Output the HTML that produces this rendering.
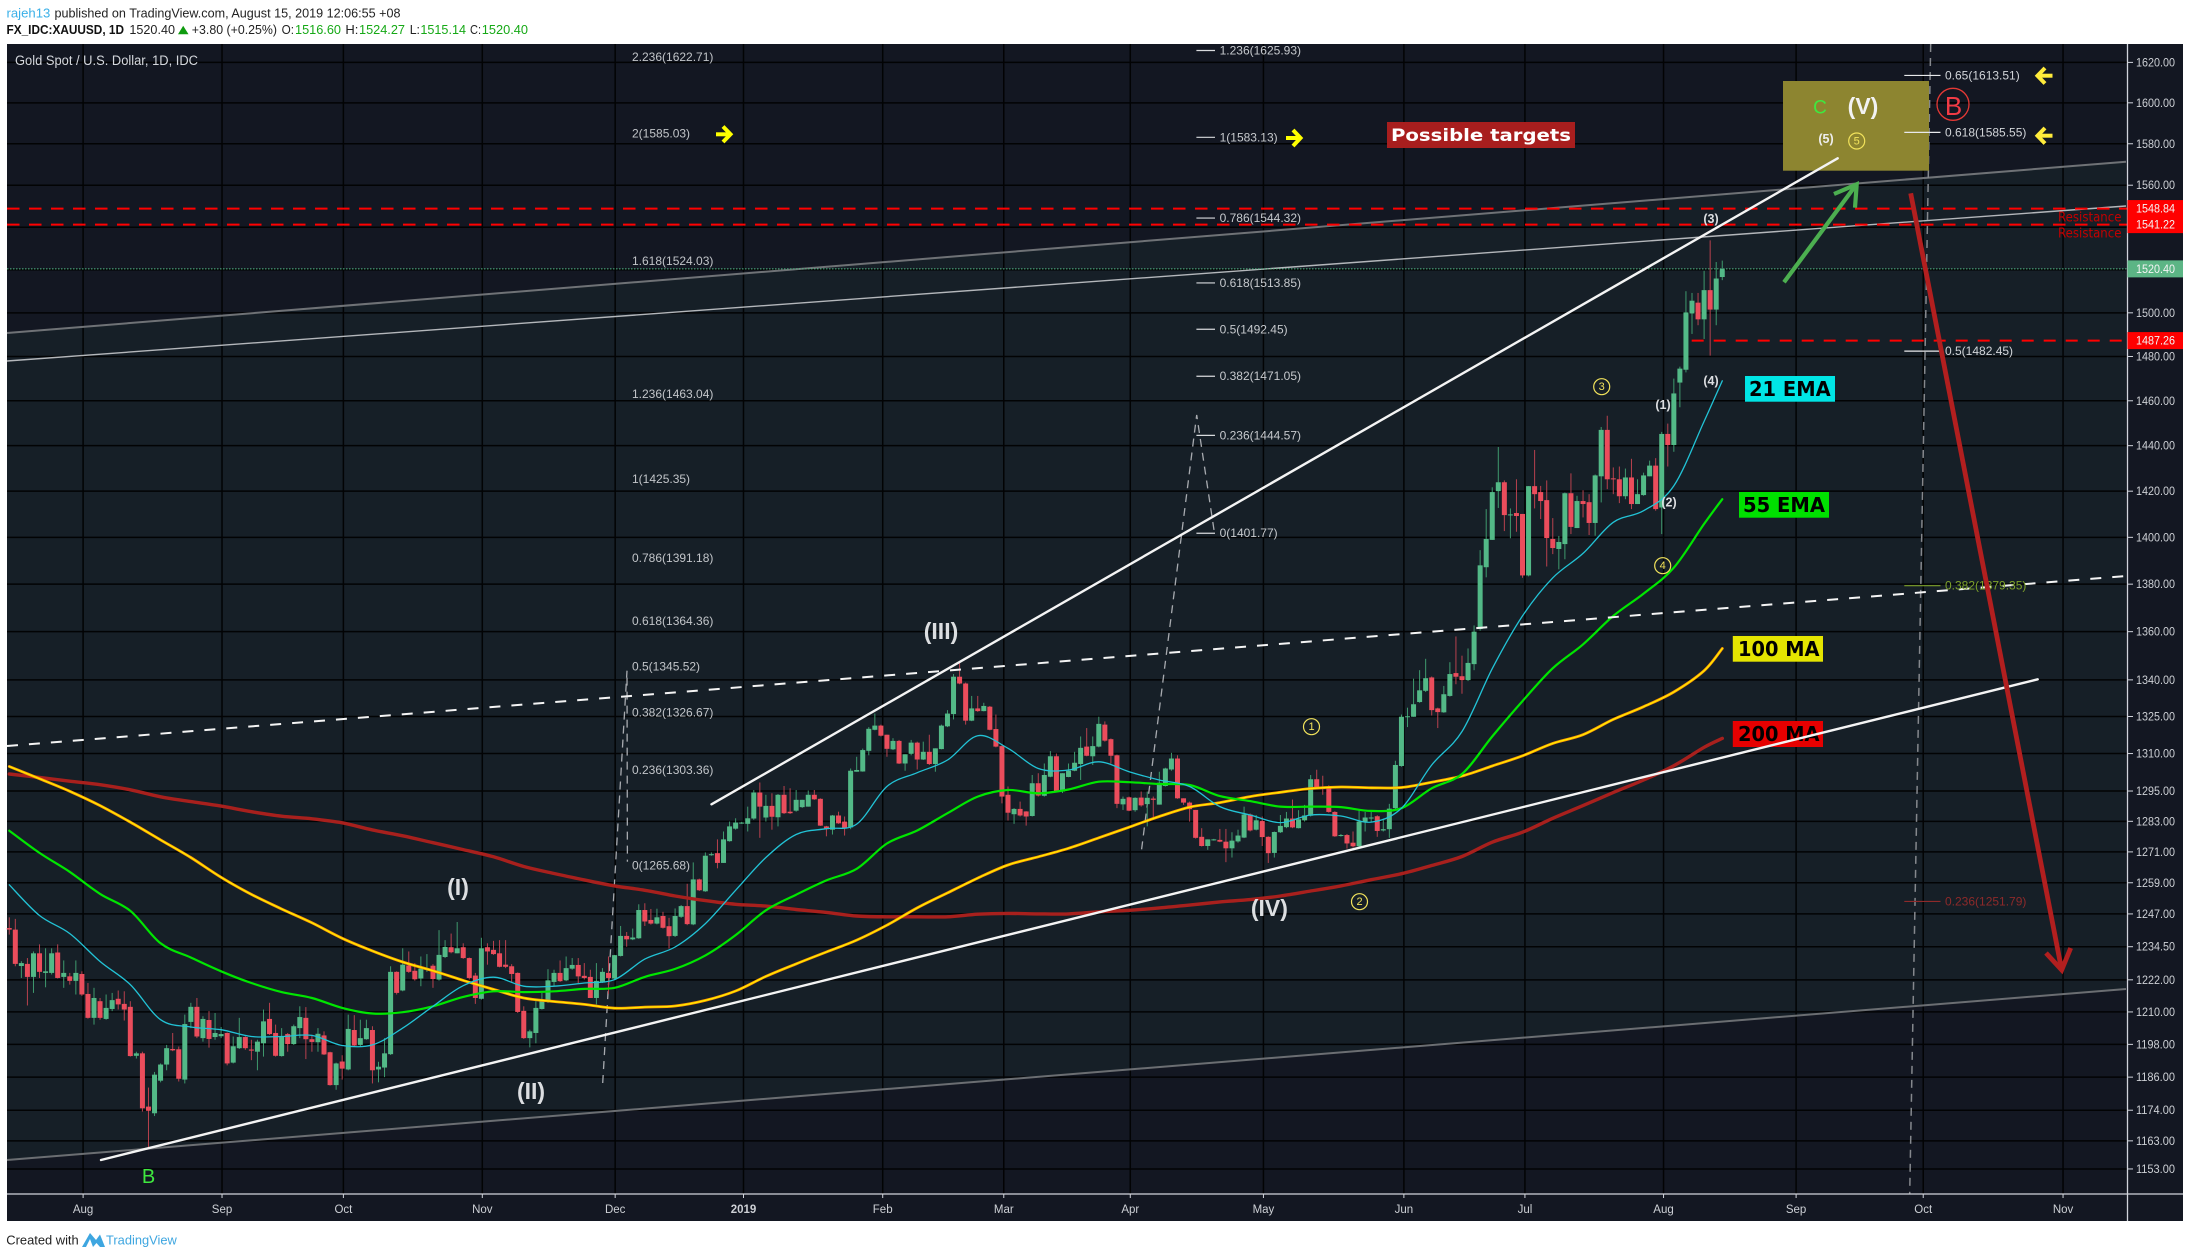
<!DOCTYPE html>
<html lang="en">
<head>
<meta charset="utf-8">
<title>Gold Spot / U.S. Dollar, 1D, IDC</title>
<style>
html,body{margin:0;padding:0;background:#fff;width:2190px;height:1258px;overflow:hidden}
svg{display:block;font-family:"Liberation Sans",sans-serif}
.dj{font-family:"DejaVu Sans","Liberation Sans",sans-serif;font-weight:bold}
.wave{font-family:"Liberation Sans",sans-serif;font-weight:bold;fill:#dcdee1;text-anchor:middle;dominant-baseline:central}
.num{font-size:11px;fill:#f2e35c;text-anchor:middle;dominant-baseline:central}
.ring{fill:none;stroke:#f2e35c;stroke-width:1.2}
</style>
</head>
<body>
<svg id="chart" width="2190" height="1258" viewBox="0 0 2190 1258" xmlns="http://www.w3.org/2000/svg">
  <g font-size="13">
    <text x="6.5" y="17.5" fill="#3ab0e8" textLength="43.8" lengthAdjust="spacingAndGlyphs">rajeh13</text>
    <text x="54.5" y="17.5" fill="#222" textLength="346" lengthAdjust="spacingAndGlyphs">published on TradingView.com, August 15, 2019 12:06:55 +08</text>
    <text x="6.5" y="34" fill="#111" font-weight="bold" textLength="117.5" lengthAdjust="spacingAndGlyphs">FX_IDC:XAUUSD, 1D</text>
    <text x="129.4" y="34" fill="#222" textLength="45.6" lengthAdjust="spacingAndGlyphs">1520.40</text>
    <polygon points="183.2,25.7 178,34.2 188.5,34.2" fill="#0f9b0f"/>
    <text x="191.8" y="34" fill="#222" textLength="85.2" lengthAdjust="spacingAndGlyphs">+3.80 (+0.25%)</text>
    <text x="281.6" y="34" fill="#222" textLength="12.4" lengthAdjust="spacingAndGlyphs">O:</text>
    <text x="295" y="34" fill="#16a916" textLength="46" lengthAdjust="spacingAndGlyphs">1516.60</text>
    <text x="345.4" y="34" fill="#222" textLength="13" lengthAdjust="spacingAndGlyphs">H:</text>
    <text x="359" y="34" fill="#16a916" textLength="46" lengthAdjust="spacingAndGlyphs">1524.27</text>
    <text x="409.7" y="34" fill="#222" textLength="10.3" lengthAdjust="spacingAndGlyphs">L:</text>
    <text x="420.4" y="34" fill="#16a916" textLength="45.6" lengthAdjust="spacingAndGlyphs">1515.14</text>
    <text x="470" y="34" fill="#222" textLength="11" lengthAdjust="spacingAndGlyphs">C:</text>
    <text x="481.8" y="34" fill="#16a916" textLength="46.2" lengthAdjust="spacingAndGlyphs">1520.40</text>
  </g>
  <rect x="7" y="44" width="2176" height="1177" fill="#131722"/>
  <polygon points="7,333 2126,161.7 2126,989 7,1160" fill="#161f27"/>
  <g id="grid"></g>
  <g fill="none">
    <line x1="7" y1="333" x2="2126" y2="161.7" stroke="#6f7276" stroke-width="2"/>
    <line x1="7" y1="361" x2="2126" y2="206" stroke="#b4b7bb" stroke-width="1.4"/>
    <line x1="7" y1="1160" x2="2126" y2="989" stroke="#6b6e72" stroke-width="2"/>
  </g>
  <g id="levels"></g>
  <g fill="none" stroke="#a8abb0" stroke-width="1.3" stroke-dasharray="8 6">
    <polyline points="602.7,1083 627,670.7 627.4,861.7"/>
    <polyline points="1141.6,849.3 1196.7,415 1214,530"/>
  </g>
  <line x1="1930.7" y1="44" x2="1909.7" y2="1194" stroke="#85888d" stroke-width="1.5" stroke-dasharray="8 6"/>
  <rect x="1783" y="81" width="146" height="89.7" fill="#8d8530"/>
  <g id="candles"></g>
  <g id="averages"></g>
  <g>
    <rect x="1745" y="376" width="90" height="25.7" fill="#00e5e5"/>
    <text class="dj" x="1749" y="396" font-size="20" fill="#000" textLength="81.7" lengthAdjust="spacingAndGlyphs">21 EMA</text>
    <rect x="1739" y="492" width="90" height="25.7" fill="#00e000"/>
    <text class="dj" x="1743" y="512" font-size="20" fill="#000" textLength="82" lengthAdjust="spacingAndGlyphs">55 EMA</text>
    <rect x="1732.8" y="636" width="90.2" height="25.7" fill="#e5e500"/>
    <text class="dj" x="1738" y="656" font-size="20" fill="#000" textLength="81.5" lengthAdjust="spacingAndGlyphs">100 MA</text>
    <rect x="1732.8" y="721" width="90.2" height="26" fill="#e60000"/>
    <text class="dj" x="1738" y="741" font-size="20" fill="#000" textLength="81.5" lengthAdjust="spacingAndGlyphs">200 MA</text>
  </g>
  <g fill="none" stroke-linecap="round">
    <line x1="101" y1="1160" x2="2037.7" y2="679.3" stroke="#f4f4f4" stroke-width="2.4"/>
    <line x1="711.5" y1="804.3" x2="1837.7" y2="158.3" stroke="#f4f4f4" stroke-width="2.4"/>
    <line x1="7" y1="746" x2="2126" y2="576" stroke="#f4f4f4" stroke-width="2" stroke-dasharray="11 11" stroke-linecap="butt"/>
  </g>
  <g id="fibs" font-size="12"></g>
  <g fill="none" stroke-linecap="butt">
    <polyline points="716,134.3 730,134.3" stroke="#ffff00" stroke-width="4"/>
    <polyline points="723,126.5 730.5,134.3 723,142" stroke="#ffff00" stroke-width="4"/>
    <polyline points="1286,138 1300,138" stroke="#ffff00" stroke-width="4"/>
    <polyline points="1293,130 1300.5,138 1293,146" stroke="#ffff00" stroke-width="4"/>
    <polyline points="2052.5,75.7 2038,75.7" stroke="#ffeb3b" stroke-width="4"/>
    <polyline points="2045,68 2037.5,75.7 2045,83.5" stroke="#ffeb3b" stroke-width="4"/>
    <polyline points="2052.5,135.7 2038,135.7" stroke="#ffeb3b" stroke-width="4"/>
    <polyline points="2045,128 2037.5,135.7 2045,143.5" stroke="#ffeb3b" stroke-width="4"/>
    <line x1="1784" y1="282.3" x2="1856" y2="185" stroke="#4caf50" stroke-width="4.2"/>
    <polyline points="1834,194 1856.7,184.3 1855,207.7" stroke="#4caf50" stroke-width="4.2"/>
    <line x1="1910.7" y1="193.3" x2="2061.5" y2="969" stroke="#b21f1f" stroke-width="4.8"/>
    <polyline points="2046,953 2061.7,970 2070.7,948" stroke="#b21f1f" stroke-width="4.8"/>
  </g>
  <g>
    <text x="15" y="65" font-size="13.5" fill="#d5d8dd" textLength="183" lengthAdjust="spacingAndGlyphs">Gold Spot / U.S. Dollar, 1D, IDC</text>
    <rect x="1387" y="122" width="188" height="26" fill="#a81e1e"/>
    <text class="dj" x="1391" y="141" font-size="17" fill="#fff" textLength="180" lengthAdjust="spacingAndGlyphs">Possible targets</text>
    <text x="1820" y="108" font-size="19" fill="#3fe83f" text-anchor="middle" dominant-baseline="central">C</text>
    <text class="wave" x="1863" y="106" font-size="23" style="fill:#f2f2f2">(V)</text>
    <text class="wave" x="1826" y="139" font-size="12.5" style="fill:#eee">(5)</text>
    <circle class="ring" cx="1856.7" cy="141" r="8"/>
    <text class="num" x="1856.7" y="141.5">5</text>
    <circle cx="1953" cy="104.3" r="16" fill="none" stroke="#e53935" stroke-width="1.3"/>
    <text x="1953.5" y="106" font-size="26" fill="#f23b45" text-anchor="middle" dominant-baseline="central">B</text>
    <text class="wave" x="458" y="887" font-size="23">(I)</text>
    <text class="wave" x="531" y="1091" font-size="23">(II)</text>
    <text class="wave" x="941" y="631" font-size="23">(III)</text>
    <text class="wave" x="1269.4" y="908" font-size="23">(IV)</text>
    <text x="148.6" y="1177" font-size="20" fill="#3fe83f" text-anchor="middle" dominant-baseline="central">B</text>
    <circle class="ring" cx="1311.5" cy="726.7" r="8"/>
    <text class="num" x="1311.5" y="727.2">1</text>
    <circle class="ring" cx="1359.5" cy="901.7" r="8"/>
    <text class="num" x="1359.5" y="902.2">2</text>
    <circle class="ring" cx="1601.7" cy="386.7" r="8"/>
    <text class="num" x="1601.7" y="387.2">3</text>
    <circle class="ring" cx="1662.7" cy="565.7" r="8"/>
    <text class="num" x="1662.7" y="566.2">4</text>
    <text class="wave" x="1663" y="405" font-size="12.5">(1)</text>
    <text class="wave" x="1669" y="502.3" font-size="12.5">(2)</text>
    <text class="wave" x="1711" y="219" font-size="12.5">(3)</text>
    <text class="wave" x="1711" y="381" font-size="12.5">(4)</text>
    <text class="dj" style="font-weight:normal" x="2058" y="221.5" font-size="13" fill="#c40000" textLength="63.5" lengthAdjust="spacingAndGlyphs">Resistance</text>
    <text class="dj" style="font-weight:normal" x="2058" y="237.5" font-size="13" fill="#c40000" textLength="63.5" lengthAdjust="spacingAndGlyphs">Resistance</text>
  </g>
  <g id="axes"></g>
  <g>
    <text x="6.3" y="1244.5" font-size="13" fill="#222" textLength="72.4" lengthAdjust="spacingAndGlyphs">Created with</text>
    <path d="M82,1247 L90,1233 L96,1240 L100,1234.5 L105,1247 L100,1247 L96.5,1243 L93,1247 L90,1239 L86,1247 Z" fill="#3ea6e0"/>
    <text x="106" y="1244.5" font-size="13" fill="#3ea6e0" textLength="70.8" lengthAdjust="spacingAndGlyphs">TradingView</text>
  </g>
</svg>
<script>
/* ---------- chart data ---------- */
const opens = [
1241.6,1241,1227.2,1228,1223.1,1232,1224.6,1224.6,1232.3,1223.1,
1223.3,1221.6,1224.2,1216.7,1207.8,1214,1207.4,1211.1,1214.9,1213,
1211.9,1193.8,1194.7,1175.3,1172.9,1184.7,1190.6,1196.3,1196.2,1185.1,
1206.3,1211.9,1200.3,1207,1200.7,1201,1202.2,1191.3,1196.6,1200.7,
1196.1,1195.3,1198.4,1207.4,1202.2,1193.7,1201.8,1198.1,1204,1207.8,
1199.9,1198.8,1201.3,1195.1,1183.1,1191.7,1188.8,1203.3,1197.8,1199.9,
1203.3,1188.8,1189.5,1194.4,1225,1218,1227.4,1225.4,1222.5,1225.8,
1227.3,1222.1,1230.6,1234.3,1232,1234.3,1230.2,1223.6,1214.9,1234.3,
1233.3,1232,1227.7,1227.1,1224.6,1210.4,1200.3,1202.2,1211.1,1213.7,
1221.2,1224.6,1221.8,1226.2,1227.6,1223.5,1223.1,1215.2,1221.2,1224.6,
1222.5,1231,1238.6,1237.3,1237.7,1248.5,1244.7,1243.3,1246.2,1242.3,
1238.6,1245.9,1250,1243,1260.3,1255.7,1269.7,1270.5,1266.7,1275.2,
1280.1,1282.1,1282,1284.1,1294.4,1284.5,1289.1,1284.6,1293.5,1286.8,
1287.2,1288.6,1288.8,1293.5,1291.9,1281,1279.7,1285.3,1282.9,1280.6,
1302.7,1302.8,1311.1,1319.6,1321.3,1317.6,1311.7,1315.1,1306,1309.9,
1314.4,1307.6,1310.7,1305.8,1311.8,1321,1326,1341.3,1338.5,1323.3,
1328.3,1327.2,1329,1319.9,1313,1293.5,1285.8,1287.9,1286.9,1285.1,
1298.1,1293.1,1300.7,1308.9,1294.8,1300.6,1303.1,1305.8,1312.8,1308.9,
1312.8,1321.7,1315.8,1309.3,1289.7,1292.5,1287.4,1292.4,1289.8,1292,
1289.6,1297,1303.6,1308,1292.1,1290.4,1287.5,1276.9,1273.3,1275.6,
1275.7,1275,1272.4,1275.1,1276.6,1285.7,1279.7,1283.1,1276.9,1270.6,
1278.7,1280.7,1284.1,1280.3,1283.4,1285.2,1299.7,1296.8,1296.8,1286.7,
1277.4,1277.6,1274.6,1273.2,1282.9,1284.3,1285,1279.4,1279.9,1288.2,
1305,1324.9,1324.9,1330.9,1335.5,1341,1328.3,1326.7,1333.4,1342.8,
1341.5,1339.9,1346.5,1361.1,1387.2,1398.9,1420,1423.9,1409.8,1410.5,
1410.1,1383.7,1422.2,1419.6,1416.1,1399.3,1395,1397.1,1419.1,1404,
1415.7,1415.2,1406.2,1426.5,1447,1425.6,1425.2,1417.8,1426,1414.4,
1418.3,1426.5,1431.2,1412.9,1445.2,1440.3,1468.2,1474,1499.7,1504.7,
1497,1510.5,1501.5,1516.6];
const highs = [
1245.7,1245.1,1229,1230.2,1232.7,1235.4,1233.9,1233.9,1235.4,1229.3,
1224.6,1229.3,1225.2,1220.8,1219,1215.2,1216.5,1217.1,1218,1217.7,
1214,1195.3,1195.3,1182.2,1187.9,1191,1197.8,1202.2,1197.2,1209,
1213.4,1215.2,1208.4,1210.3,1209.6,1204.4,1202.4,1200.9,1207.8,1201,
1199.7,1199.7,1210.9,1213.4,1205.3,1204,1202.2,1205.3,1212.1,1211.8,
1201.5,1204,1202.8,1195.3,1191.3,1194,1209,1208.8,1207.1,1207.1,
1204.7,1191.6,1200.3,1227.1,1225.2,1233.9,1232.7,1228.3,1230.8,1231.7,
1227.9,1240.8,1237,1239.5,1243.9,1235.8,1230.4,1224.6,1237.9,1235.8,
1236.7,1237,1237,1227.9,1224.8,1212.1,1203.4,1214,1217.1,1226,
1225.8,1229.3,1230.8,1230.2,1230.2,1228.3,1225.8,1228.3,1226.4,1230.8,
1231.4,1242.4,1240.1,1241.4,1250.7,1251.1,1248.9,1249,1247.8,1245.5,
1249.1,1250.4,1258.6,1266.9,1260.6,1270.8,1270.8,1275.9,1279,1282.9,
1284.2,1282.8,1288.8,1295.4,1298.4,1293.5,1294.1,1293.8,1297,1296.1,
1295.4,1291.5,1295.2,1295.4,1292.1,1281.2,1285.5,1286.8,1284.9,1304,
1308.7,1312,1320.7,1326.2,1321.7,1317.6,1316.2,1315.5,1309.7,1315.5,
1314.8,1314.8,1317.6,1312.1,1321.7,1327.6,1342.4,1347.3,1338.9,1333.4,
1333.4,1330.6,1329.3,1325.8,1313.4,1296.8,1288.2,1290.8,1287,1301.4,
1302.1,1306,1311,1310,1302.1,1306,1310.7,1316.9,1320.3,1316.9,
1324.9,1323,1316.1,1309.6,1292.8,1292.8,1292.5,1294.8,1294.8,1292.8,
1302.7,1304.3,1310.3,1309.3,1292.1,1290.8,1287.5,1280.3,1275.9,1276.1,
1280,1280,1278.7,1279.7,1288.8,1286.1,1285.5,1284.9,1277.1,1279,
1285.5,1286.7,1291.6,1287.4,1289.5,1301.4,1303.5,1301.1,1297.3,1287,
1278,1278,1279,1287.4,1286.7,1287.4,1285.4,1284.1,1289.9,1307.1,
1325.8,1328.6,1340.5,1344,1348.7,1341.4,1328.6,1337.5,1347.3,1358,
1350,1353,1362.6,1394.5,1412.2,1421.7,1439.4,1424.7,1412.5,1425.2,
1410.1,1422.2,1438.1,1422.3,1424.7,1408.3,1400.6,1419.4,1427.8,1418,
1420.4,1418.7,1427.3,1448.3,1453.3,1430.4,1430.8,1429.9,1434.2,1425.2,
1428.1,1433.4,1434.5,1446.1,1449.8,1470,1475.4,1510,1509.2,1509.2,
1519.5,1533.8,1523.6,1524.27];
const lows = [
1239.1,1227.1,1222.7,1212.4,1217.1,1222.7,1219.2,1224,1222.5,1219,
1220.2,1216.5,1216,1207.5,1205.3,1207.1,1207.1,1210.3,1210.9,1206.8,
1193.5,1192.8,1173.5,1160.5,1171.9,1184.1,1188.5,1195.5,1184.4,1183.7,
1204,1200.3,1199,1196.8,1199.7,1200.3,1190.3,1191,1196.3,1196,
1192.2,1188.5,1193.5,1201.5,1193.5,1193.5,1195.3,1197.8,1200.3,1192.6,
1195.3,1195.3,1194.1,1182.9,1181.4,1185.1,1188.5,1197.2,1197.2,1199.7,
1183.7,1184.1,1186,1194.1,1216.5,1217.7,1224.6,1221.7,1219.6,1225,
1219,1221.7,1230.2,1232,1232,1229.9,1222.1,1213,1214.6,1227.7,
1231.4,1226.7,1226.4,1220.8,1209.6,1200,1196.9,1198.4,1210.9,1213.4,
1219.6,1221.2,1221.5,1225.8,1220.8,1222.1,1215.2,1212.8,1220.8,1216.7,
1222.1,1230.8,1234.5,1237,1237.5,1242.4,1242.9,1243,1241.4,1233.8,
1238.2,1245.5,1242.7,1242.7,1255.8,1255.5,1269.5,1264.6,1266.7,1275,
1279.7,1282,1279,1283.6,1276.5,1282.9,1279.7,1281,1285.9,1285.9,
1286.8,1288.3,1288.8,1291.5,1281.2,1277.1,1277.8,1282,1277.4,1279.9,
1302.7,1302.7,1309.3,1319.4,1316.9,1308.7,1311.4,1305.8,1303.1,1309.3,
1303.6,1307.4,1305.4,1302.7,1311.7,1320.7,1323.8,1338.2,1321.7,1323.1,
1326.9,1327.1,1319.4,1312.5,1290.1,1283.3,1282,1284.9,1281.3,1284.9,
1292.8,1292.8,1300.5,1294.8,1294.2,1300.5,1302.9,1299.4,1308.9,1305.4,
1312.5,1314.8,1306,1288.2,1287.5,1287,1286.8,1288.8,1281,1284.2,
1289.6,1296.8,1303.1,1291.9,1289.5,1282.9,1276.2,1273.1,1271.8,1275.4,
1274.8,1267,1268.8,1274.6,1276.4,1279,1279.4,1273.3,1266.7,1268.8,
1278.4,1280.3,1280.3,1280.2,1282.9,1284.9,1295.7,1293.5,1286.4,1276.9,
1277,1272.3,1272.7,1273.1,1279,1282.9,1276.9,1279,1276.5,1287.5,
1304.7,1320.7,1324.9,1330.6,1335,1325.4,1320.3,1326.5,1333.1,1338.2,
1334.3,1339.5,1344,1360.4,1382.9,1398.9,1412.7,1402.7,1399.6,1402.4,
1382.7,1383.3,1412.5,1407.9,1387.5,1392.8,1386.3,1390.6,1401.4,1404,
1408.6,1401,1400.7,1415.1,1420.9,1418.7,1414.8,1416.5,1412.2,1414.4,
1418,1426.5,1411.5,1401.4,1430.8,1437.3,1457.1,1472.8,1490.3,1494.3,
1488,1480.4,1494.3,1515.14];
const closes = [
1241,1228,1228.3,1223.1,1232,1225,1225.2,1232,1222.7,1224.6,
1221.6,1224.6,1216.5,1207.8,1215.2,1207.8,1211.5,1214.4,1212.8,1210.9,
1193.7,1194.7,1174.7,1173.8,1186.9,1190.6,1196.6,1195.8,1185.4,1205.5,
1211.9,1200.9,1207.4,1200,1202.2,1201.8,1191,1197.3,1200.7,1196.6,
1195.7,1199,1206.5,1201.8,1193.8,1200.9,1198.1,1204.7,1208.1,1199.9,
1198.9,1201.9,1194.3,1183.1,1191,1189.1,1203.7,1197.6,1200.3,1204,
1188.5,1189.8,1194.7,1225,1217.1,1227.7,1225,1222.2,1226.2,1226.4,
1222.3,1231.4,1234.4,1232.4,1233.9,1230.2,1222.7,1215.2,1233.9,1232.7,
1231.7,1226.9,1226.9,1224.2,1210,1200.3,1202.8,1211.5,1214,1221.8,
1224.6,1221.5,1226.4,1227.6,1223.3,1222.7,1215.2,1221.6,1225,1222.7,
1231.3,1238.6,1237.3,1238,1248.5,1244.1,1243.3,1245.7,1241.7,1238.5,
1246.2,1250,1243.1,1260.3,1256.1,1269.5,1270.1,1266.7,1275.9,1281,
1282.5,1282.5,1284.2,1294.4,1288.8,1289.1,1284.8,1293.5,1286.2,1286.2,
1291.5,1291.5,1293.5,1291.7,1281.3,1279.9,1285.3,1282.2,1280.3,1303.1,
1303.4,1311.4,1320,1321.3,1317.2,1311.9,1315.1,1306,1309.7,1314.4,
1307.6,1310.7,1305.8,1312.1,1321.3,1326.2,1341.3,1338.5,1323.3,1328.3,
1327.2,1329.3,1319.6,1312.8,1292.8,1286.4,1287.9,1285.3,1284.9,1298.1,
1293.2,1301.4,1308.9,1295,1302.1,1303.1,1306.3,1312.3,1309.1,1313,
1322,1315.2,1309.1,1289.9,1291.9,1287.2,1292.3,1289.3,1292.3,1291.5,
1298.3,1304,1308,1292.1,1290.4,1287.8,1276.5,1273.3,1275.9,1275.9,
1275,1272.4,1275.4,1277.4,1285.7,1279.4,1283.4,1276.8,1270.5,1278.8,
1281.2,1284.1,1280.6,1283.8,1285.3,1299.7,1296.1,1295.8,1286.7,1277.1,
1277.6,1274.3,1273.2,1282.9,1284.5,1284.5,1279.2,1279.9,1288,1305.4,
1324.9,1325.1,1330,1335.7,1340.7,1327.6,1326.8,1334.1,1342.4,1341.3,
1339.9,1347,1360,1388,1399.3,1419.6,1423.9,1409.6,1409.9,1409.2,
1383.7,1422.2,1418.7,1415.7,1399.7,1395.4,1398,1419.1,1404.5,1415.7,
1414.4,1406.2,1426.9,1447,1425.2,1425.3,1417.8,1426,1414.4,1418.7,
1426.9,1431.2,1412.2,1445.2,1440.3,1463.3,1474.5,1500.2,1505.6,1497,
1510.5,1501.5,1515.9,1520.4];

/* moving averages sampled every 5th bar, plus the final bar */
const ema21 = [1258.2,1246.4,1239.5,1228.9,1220.2,1207.1,1204.4,1203.4,1200.9,1200.9,1201.3,1197.6,1197.8,1204,1212.1,1219.8,1223,1219.6,1219.6,1220.8,1222.1,1229.8,
1234.4,1243.3,1256.1,1268.8,1277.8,1280.1,1281.9,1296.8,1302.3,1307.4,1317.2,1312.1,1304,1303.4,1306.7,1302.7,1299.4,1296.8,
1288.8,1285.5,1282.5,1285.5,1285.1,1282.7,1288.2,1305.4,1318.9,1344.6,
1366.6,1382.7,1393.1,1406.5,1411.5,1422.3,1450.8,1469];
const ema55 = [1279.3,1270.6,1263.2,1254.7,1248.2,1235.8,1230.4,1225.2,1220.8,1217.4,1215.2,1211.5,1209.4,1209.9,1212.1,1215.6,1217.7,1217.4,1217.7,1218.6,1219,1223.1,
1226.1,1231.2,1238.9,1248.4,1254.4,1259.9,1264.4,1274.3,1279.4,1286.2,1292.8,1295.4,1294.1,1295.6,1298.7,1298.5,1297.8,1297.4,
1293,1291,1288.8,1288.8,1288.6,1287.1,1288.2,1296.1,1301.8,1316.9,
1331.3,1344.8,1354.7,1366.6,1376,1387,1405.8,1416.5];
const ma100 = [1304.8,1299.9,1294.9,1289.2,1282.7,1275.7,1268.8,1261.1,1254.5,1248.9,1243.6,1237.7,1232.9,1228.7,1225.4,1221.8,1218.4,1215.2,1213.9,1212.8,1211.4,1211.8,
1212.2,1214.3,1217.8,1223.3,1228,1232.5,1237,1242.7,1249.3,1255.1,1260.8,1265.9,1269.1,1272.4,1276.5,1280.7,1284.9,1288.6,
1290.4,1292.8,1294.5,1296,1296.6,1296.3,1296.4,1298.5,1301,1305,
1309.1,1314.1,1317.6,1323.8,1329,1335,1343.8,1353];
const ma200 = [1301.8,1300.4,1298.9,1297.5,1295.5,1292.7,1290.8,1289,1286.8,1285,1284,1282.4,1279.6,1277.3,1274.6,1271.9,1269.1,1265.3,1262.6,1260.1,1257.8,1256.1,
1253.9,1252.1,1250.7,1250,1248.7,1247.6,1246.2,1245.9,1245.9,1245.9,1246.9,1247.2,1247,1247,1247.8,1248.4,1249.3,1250.4,
1251.6,1252.5,1253.9,1255.8,1257.8,1260.2,1262.5,1265.7,1269.2,1274.8,
1278.7,1284.2,1289.2,1294.4,1299.4,1305.1,1312.5,1316.1];

/* axes */
const priceTicks = [1620,1600,1580,1560,1540,1520,1500,1480,1460,1440,1420,1400,1380,1360,1340,1325,1310,1295,1283,1271,1259,1247,1234.5,1222,1210,1198,1186,1174,1163,1153];
const monthLabels = ['Aug','Sep','Oct','Nov','Dec','2019','Feb','Mar','Apr','May','Jun','Jul','Aug','Sep','Oct','Nov'];
const monthBars = [12.2,35.15,55.2,78.15,100.1,121.3,144.3,164.3,185.2,207.2,230.4,250.4,273.3,295.2,316.2,339.3];

/* horizontal price levels */
const resistanceLevels = [1548.84,1541.22];
const supportLevel = 1487.26;
const lastPrice = 1520.40;

/* fibonacci levels */
const fibLeftRatios = ['2.236','2','1.618','1.236','1','0.786','0.618','0.5','0.382','0.236','0'];
const fibLeftPrices = [1622.71,1585.03,1524.03,1463.04,1425.35,1391.18,1364.36,1345.52,1326.67,1303.36,1265.68];
const fibMidRatios = ['1.236','1','0.786','0.618','0.5','0.382','0.236','0'];
const fibMidPrices = [1625.93,1583.13,1544.32,1513.85,1492.45,1471.05,1444.57,1401.77];
const fibRightRatios = ['0.65','0.618','0.5','0.382','0.236'];
const fibRightPrices = [1613.51,1585.55,1482.45,1379.35,1251.79];
const fibRightColors = ['#d2d5d9','#d2d5d9','#d2d5d9','#7da12a','#8e2a2a'];

/* ---------- axis functions ---------- */
const SVGNS = 'http://www.w3.org/2000/svg';
function xScale(bar){ return 9.26 + 6.053 * bar; }
function yScale(price){ return 62.4 + 3254 * Math.log(1620 / price); }
function maBar(k){ return Math.min(k * 5, 283); }
const PLOT_L = 7, PLOT_R = 2127, PLOT_T = 44, PLOT_B = 1194, OUTER_B = 1221, OUTER_R = 2183;
function node(parent, tag){
  const el = document.createElementNS(SVGNS, tag);
  parent.appendChild(el);
  return el;
}
function setAll(el, attrs){
  for (const k in attrs) el.setAttribute(k, attrs[k]);
}

/* ---------- grid ---------- */
const gridG = document.getElementById('grid');
priceTicks.forEach(function(p){
  const ln = node(gridG, 'line');
  
  
  setAll(ln, {x1:PLOT_L, x2:PLOT_R, y1:yScale(p), y2:yScale(p), stroke:'#020304', 'stroke-width':1.5});
});
monthBars.forEach(function(b){
  const ln = node(gridG, 'line');
  
  
  setAll(ln, {x1:xScale(b), x2:xScale(b), y1:PLOT_T, y2:PLOT_B, stroke:'#020304', 'stroke-width':1.5});
});

/* ---------- horizontal levels ---------- */
const levelsG = document.getElementById('levels');
resistanceLevels.forEach(function(p){
  const ln = node(levelsG, 'line');
  
  
  setAll(ln, {x1:PLOT_L, x2:PLOT_R, y1:yScale(p), y2:yScale(p), stroke:'#ff0000', 'stroke-width':2, 'stroke-dasharray':'12.5 9.5'});
});
const supportLine = node(levelsG, 'line');


setAll(supportLine, {x1:1691.7, x2:PLOT_R, y1:yScale(supportLevel), y2:yScale(supportLevel), stroke:'#ff0000', 'stroke-width':2, 'stroke-dasharray':'12 10'});
const lastLine = node(levelsG, 'line');


setAll(lastLine, {x1:PLOT_L, x2:PLOT_R, y1:yScale(lastPrice), y2:yScale(lastPrice), stroke:'#53b987', 'stroke-width':1, 'stroke-dasharray':'1.5 1.5'});

/* ---------- candles ---------- */
const candlesG = document.getElementById('candles');
opens.forEach(function(o, i){
  const up = closes[i] >= o;
  const color = up ? '#53b987' : '#eb4d5c';
  const cx = xScale(i);
  const wick = node(candlesG, 'line');
  
  
  setAll(wick, {x1:cx, x2:cx, y1:yScale(highs[i]), y2:yScale(lows[i]), stroke:up ? '#3f9a6e' : '#b8414e', 'stroke-width':1});
  const top = yScale(Math.max(o, closes[i]));
  const bottom = yScale(Math.min(o, closes[i]));
  const body = node(candlesG, 'rect');
  
  
  setAll(body, {x:cx - 2.5, y:top, width:5, height:Math.max(bottom - top, 1), fill:color});
});

/* ---------- moving averages (smooth curve through the sampled values) ---------- */
const avgG = document.getElementById('averages');
function maPath(values){
  const xs = values.map(function(v, k){ return xScale(maBar(k)); });
  const ys = values.map(function(v){ return yScale(v); });
  let d = 'M' + xs[0].toFixed(1) + ' ' + ys[0].toFixed(1);
  for (let i = 0; i < values.length - 1; i++) {
    const p = Math.max(i - 1, 0);
    const n = Math.min(i + 2, values.length - 1);
    const c1x = xs[i] + (xs[i + 1] - xs[p]) / 6;
    const c1y = ys[i] + (ys[i + 1] - ys[p]) / 6;
    const c2x = xs[i + 1] - (xs[n] - xs[i]) / 6;
    const c2y = ys[i + 1] - (ys[n] - ys[i]) / 6;
    d += 'C' + c1x.toFixed(1) + ' ' + c1y.toFixed(1) + ' ' + c2x.toFixed(1) + ' ' + c2y.toFixed(1) + ' ' + xs[i + 1].toFixed(1) + ' ' + ys[i + 1].toFixed(1);
  }
  return d;
}
const line200 = node(avgG, 'path');


setAll(line200, {d:maPath(ma200), fill:'none', stroke:'#a8201d', 'stroke-width':3.4, 'stroke-linecap':'round'});
const line100a = node(avgG, 'path');


setAll(line100a, {d:maPath(ma100), fill:'none', stroke:'#ff9800', 'stroke-width':2.8, 'stroke-linecap':'round'});
const line100b = node(avgG, 'path');


setAll(line100b, {d:maPath(ma100), fill:'none', stroke:'#ffeb00', 'stroke-width':1.3, 'stroke-linecap':'round'});
const line55 = node(avgG, 'path');


setAll(line55, {d:maPath(ema55), fill:'none', stroke:'#00e600', 'stroke-width':2.2, 'stroke-linecap':'round'});
const line21 = node(avgG, 'path');


setAll(line21, {d:maPath(ema21), fill:'none', stroke:'#22c3d6', 'stroke-width':1.3, 'stroke-linecap':'round'});

/* ---------- fibonacci labels ---------- */
const fibG = document.getElementById('fibs');
fibLeftRatios.forEach(function(r, i){
  const t = node(fibG, 'text');
  
  
  setAll(t, {x:632, y:yScale(fibLeftPrices[i]) + 4, fill:'#c2c5c9'});
  t.textContent = r + '(' + fibLeftPrices[i].toFixed(2) + ')';
});
fibMidRatios.forEach(function(r, i){
  const yy = yScale(fibMidPrices[i]);
  const tick = node(fibG, 'line');
  
  
  setAll(tick, {x1:1196.4, x2:1215, y1:yy, y2:yy, stroke:'#d8dadd', 'stroke-width':1.2});
  const t = node(fibG, 'text');
  
  
  setAll(t, {x:1219.6, y:yy + 4, fill:'#c6c9cd'});
  t.textContent = r + '(' + fibMidPrices[i].toFixed(2) + ')';
});
fibRightRatios.forEach(function(r, i){
  const yy = yScale(fibRightPrices[i]);
  const tick = node(fibG, 'line');
  
  
  setAll(tick, {x1:1904.3, x2:1940.5, y1:yy, y2:yy, stroke:i < 3 ? '#e8e9eb' : fibRightColors[i], 'stroke-width':1.2});
  const t = node(fibG, 'text');
  
  
  setAll(t, {x:1945, y:yy + 4, fill:fibRightColors[i]});
  t.textContent = r + '(' + fibRightPrices[i].toFixed(2) + ')';
});

/* ---------- axes ---------- */
const axesG = document.getElementById('axes');
const yAxisLine = node(axesG, 'line');


setAll(yAxisLine, {x1:PLOT_R + 0.5, x2:PLOT_R + 0.5, y1:PLOT_T, y2:OUTER_B, stroke:'#d1d4dc', 'stroke-width':1.3});
const xAxisLine = node(axesG, 'line');


setAll(xAxisLine, {x1:PLOT_L, x2:OUTER_R, y1:PLOT_B, y2:PLOT_B, stroke:'#d1d4dc', 'stroke-width':1.3});
priceTicks.forEach(function(p){
  const yy = yScale(p);
  const tick = node(axesG, 'line');
  
  
  setAll(tick, {x1:PLOT_R, x2:PLOT_R + 6, y1:yy, y2:yy, stroke:'#d1d4dc', 'stroke-width':1});
  const t = node(axesG, 'text');
  
  
  setAll(t, {x:2136, y:yy + 4, fill:'#cdd0d5', 'font-size':12, textLength:39, lengthAdjust:'spacingAndGlyphs'});
  t.textContent = p.toFixed(2);
});
monthLabels.forEach(function(m, i){
  const cx = xScale(monthBars[i]);
  const tick = node(axesG, 'line');
  
  
  setAll(tick, {x1:cx, x2:cx, y1:PLOT_B, y2:PLOT_B + 4, stroke:'#d1d4dc', 'stroke-width':1});
  const t = node(axesG, 'text');
  
  
  setAll(t, {x:cx, y:1213, fill:'#cdd0d5', 'font-size':11.5, 'text-anchor':'middle'});
  if (m === '2019') t.setAttribute('font-weight', 'bold');
  t.textContent = m;
});
function priceBadge(price, fill){
  const yy = yScale(price);
  const box = node(axesG, 'rect');
  
  
  setAll(box, {x:PLOT_R + 0.5, y:yy - 8.5, width:OUTER_R - PLOT_R - 0.5, height:17, fill:fill});
  const t = node(axesG, 'text');
  
  
  setAll(t, {x:2136, y:yy + 4, fill:'#f4f4f4', 'font-size':12, textLength:39, lengthAdjust:'spacingAndGlyphs'});
  t.textContent = price.toFixed(2);
}
resistanceLevels.forEach(function(p){ priceBadge(p, '#ff0000'); });
priceBadge(supportLevel, '#ff0000');
priceBadge(lastPrice, '#5cb585');
</script>
</body>
</html>
